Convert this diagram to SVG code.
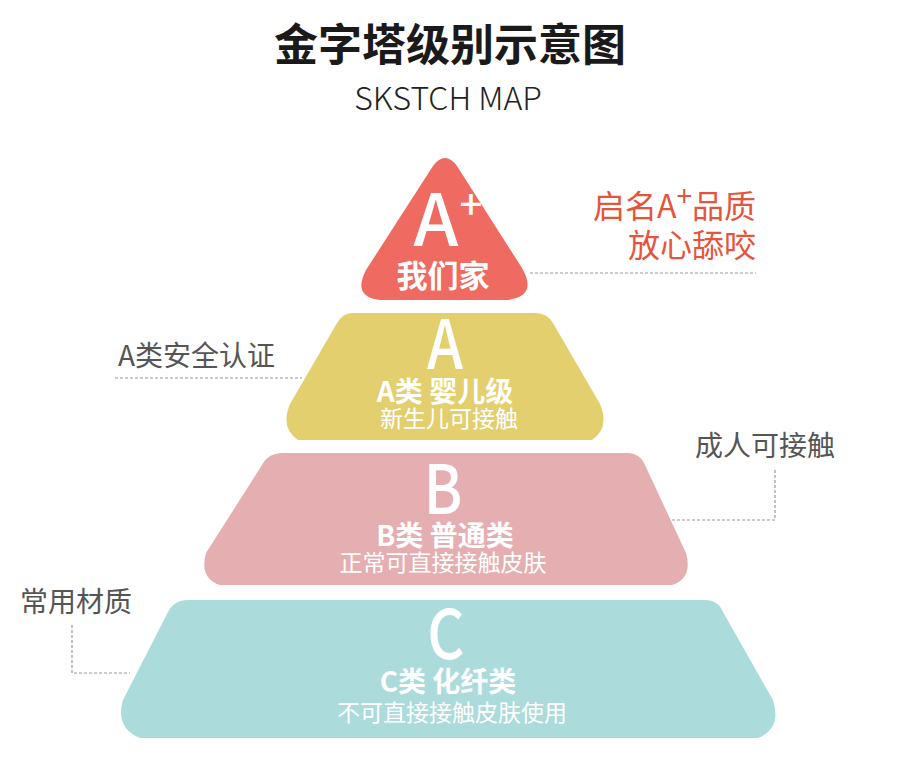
<svg xmlns="http://www.w3.org/2000/svg" width="900" height="767" viewBox="0 0 900 767">
<style>
text{font-family:"Noto Sans CJK SC","Noto Sans",sans-serif}
.w{fill:#ffffff;text-anchor:middle}
.big{font-size:68px;font-weight:500}
.mid{font-size:28px;font-weight:700}
.sm{font-size:23px}
.gl{fill:#555555;font-size:28px}
.dash{fill:none;stroke:#999999;stroke-width:1.2;stroke-dasharray:3 2}
</style>
<rect width="900" height="767" fill="#ffffff"/>
<g id="title">
<text x="450" y="61" text-anchor="middle" font-size="44" font-weight="700" fill="#1a1a1a">金字塔级别示意图</text>
<text x="448" y="110" text-anchor="middle" font-size="32" font-weight="300" fill="#222222">SKSTCH MAP</text>
</g>
<g id="level-aplus">
<path d="M 433,166 Q 445,150 457,166 L 522,268 Q 538,296 508,300 L 380,300 Q 352,297 366,270 Z" fill="#ef6a61"/>
<text x="436" y="246" class="w" font-size="72" font-weight="500">A</text>
<text x="471" y="219" class="w" font-size="40" font-weight="500">+</text>
<text x="443" y="287" class="w" font-size="31" font-weight="700">我们家</text>
</g>
<g id="level-a">
<path d="M 352,313 L 535,313 Q 547,313 553,323 L 600,404 Q 610,428 592,440 L 298,440 Q 280,428 290,404 L 337,323 Q 343,313 352,313 Z" fill="#e3cf6e"/>
<text transform="translate(445,369) scale(0.85,1)" class="w big">A</text>
<text x="445" y="402" class="w mid">A类 婴儿级</text>
<text x="449" y="427" class="w sm">新生儿可接触</text>
</g>
<g id="level-b">
<path d="M 283,453 L 627,453 Q 640,453 645,465 L 686,553 Q 693,578 672,585 L 220,585 Q 199,578 206,553 L 262,465 Q 268,453 283,453 Z" fill="#e5afb1"/>
<text transform="translate(443,514) scale(0.85,1)" class="w big">B</text>
<text x="445" y="546" class="w mid">B类 普通类</text>
<text x="443" y="571" class="w sm">正常可直接接触皮肤</text>
</g>
<g id="level-c">
<path d="M 188,600 L 705,600 Q 718,600 723,612 L 773,700 Q 782,728 758,738 L 140,738 Q 115,728 123,700 L 168,612 Q 174,600 188,600 Z" fill="#abdbdb"/>
<text transform="translate(446,659) scale(0.85,1)" class="w big">C</text>
<text x="448" y="692" class="w mid">C类 化纤类</text>
<text x="452" y="721" class="w sm">不可直接接触皮肤使用</text>
</g>
<g id="label-aplus">
<text x="756" y="218" text-anchor="end" font-size="32" fill="#e5553b">启名A<tspan font-size="28" dy="-12">+</tspan><tspan dy="12">品质</tspan></text>
<text x="756" y="257" text-anchor="end" font-size="32" fill="#e5553b">放心舔咬</text>
</g>
<g id="label-a"><text x="118" y="366" class="gl">A类安全认证</text></g>
<g id="label-b"><text x="695" y="456" class="gl">成人可接触</text></g>
<g id="label-c"><text x="20" y="612" class="gl">常用材质</text></g>
<g id="connectors">
<path class="dash" d="M 530,273 L 756,273"/>
<path class="dash" d="M 115,378 L 302,378"/>
<path class="dash" d="M 775,470 L 775,520 L 672,520"/>
<path class="dash" d="M 72,625 L 72,673 L 130,673"/>
</g>
</svg>
